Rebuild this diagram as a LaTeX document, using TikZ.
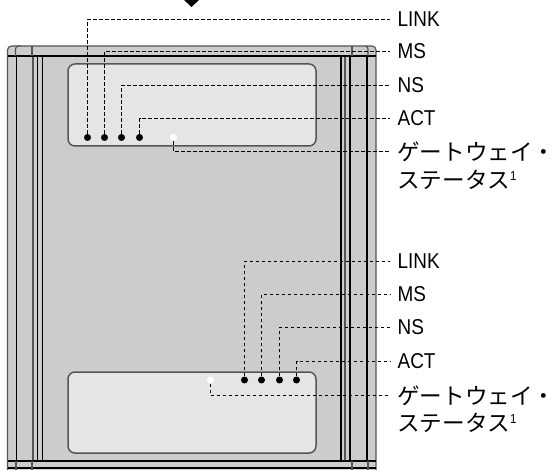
\documentclass[tikz,border=0pt]{standalone}
\usepackage{fontspec}
\usepackage{graphicx}
\usepackage{xcolor}
\setmainfont{Liberation Sans}
\newfontfamily\cjk{Noto Sans CJK JP}
\definecolor{body}{HTML}{CCCCCC}
\definecolor{panel}{HTML}{E5E5E5}
\definecolor{edge}{HTML}{555555}
\definecolor{ink}{HTML}{000000}
\newcommand{\narrowlab}[1]{\scalebox{.88}[1]{#1}}
\newcommand{\noteone}{\raisebox{8pt}{\fontsize{13}{13}\selectfont\rmfamily\narrowlab{1}}}
\tikzset{
  base/.style={draw=ink, line width=1.2pt},
  soft/.style={draw=edge, line width=1.2pt},
  panelbox/.style={draw=edge, fill=panel, line width=1.5pt, rounded corners=7pt},
  lead/.style={draw=ink, line width=1.2pt, dash pattern=on 3.6pt off 2.4pt},
  dot/.style={circle, fill=ink, inner sep=0pt, minimum size=7pt},
  wdot/.style={circle, fill=white, inner sep=0pt, minimum size=7pt},
  lab/.style={anchor=west, inner xsep=0pt, inner ysep=0pt, text=ink, font=\fontsize{21.5}{23}\selectfont},
  jlab/.style={anchor=west, inner xsep=0pt, inner ysep=0pt, text=ink, font=\fontsize{22.6}{25}\cjk},
}
\begin{document}
\begin{tikzpicture}[x=1pt,y=-1pt]
  \useasboundingbox (0,0) rectangle (557,470);
  % housing
  \fill[body, rounded corners=4pt] (7.5,476) -- (7.5,46) -- (376,46) -- (376,476) -- cycle;
  \draw[soft, rounded corners=4pt] (7.5,476) -- (7.5,46) -- (376,46) -- (376,476);
  \draw[base] (16.5,56) -- (16.5,461);
  \draw[soft] (33,56) -- (33,461);
  \draw[base] (37.5,56) -- (37.5,461);
  \draw[base] (42.5,56) -- (42.5,461);
  \draw[base] (341,56) -- (341,461);
  \draw[soft] (345,56) -- (345,461);
  \draw[base] (350,56) -- (350,461);
  \draw[base] (367,56) -- (367,461);
  % top and bottom bands
  \draw[base] (7.5,56) -- (376,56);
  \draw[soft, rounded corners=3pt] (15.5,56) -- (15.5,46) -- (18,46);
  \draw[soft] (32,46) -- (32,56);
  \draw[soft] (352,46) -- (352,56);
  \draw[soft, rounded corners=3pt] (365,46) -- (368,46) -- (368,56);
  \draw[base] (7.5,461) -- (376,461);
  \draw[base] (7.5,468) -- (376,468);
  \draw[soft] (16,461) -- (16,470);
  \draw[soft] (32,461) -- (32,470);
  \draw[soft] (352,461) -- (352,470);
  \draw[soft] (368,461) -- (368,470);
  % panels
  \draw[panelbox] (68,64) rectangle (316,146);
  \draw[panelbox] (68,372) rectangle (316,453);
  % arrow
  \fill[ink] (183,-1) -- (191.5,7) -- (200,-1) -- cycle;
  % upper group
  \node[dot] (linka) at (87.5,137.5) {};
  \node[dot] (msa) at (104.5,137.5) {};
  \node[dot] (nsa) at (121.5,137.5) {};
  \node[dot] (acta) at (139.5,137.5) {};
  \node[wdot] (gwa) at (173.5,137.5) {};
  \node[lab] (linkla) at (390,19.5) {\hspace*{7.5pt}\narrowlab{LINK}};
  \node[lab] (msla) at (390,51.5) {\hspace*{7.5pt}\narrowlab{MS}};
  \node[lab] (nsla) at (390,85.5) {\hspace*{7.5pt}\narrowlab{NS}};
  \node[lab] (actla) at (390,118.5) {\hspace*{7.5pt}\narrowlab{ACT}};
  \node[jlab] (gwla) at (390,151.5) {\hspace*{7pt}ゲートウェイ・};
  \node[jlab] (gwlb) at (390,180) {\hspace*{7pt}ステータス\noteone};
  \draw[lead] (linka) |- (linkla);
  \draw[lead] (msa) |- (msla);
  \draw[lead] (nsa) |- (nsla);
  \draw[lead] (acta) |- (actla);
  \draw[lead] (gwa) |- (gwla);
  % lower group
  \node[dot] (linkb) at (244.5,380) {};
  \node[dot] (msb) at (261.5,380) {};
  \node[dot] (nsb) at (279.5,380) {};
  \node[dot] (actb) at (296.5,380) {};
  \node[wdot] (gwb) at (210.5,380) {};
  \node[lab] (linklb) at (390,261.5) {\hspace*{7.5pt}\narrowlab{LINK}};
  \node[lab] (mslb) at (390,294.5) {\hspace*{7.5pt}\narrowlab{MS}};
  \node[lab] (nslb) at (390,327.5) {\hspace*{7.5pt}\narrowlab{NS}};
  \node[lab] (actlb) at (390,361.5) {\hspace*{7.5pt}\narrowlab{ACT}};
  \node[jlab] (gwlc) at (390,395.5) {\hspace*{7pt}ゲートウェイ・};
  \node[jlab] (gwld) at (390,422.5) {\hspace*{7pt}ステータス\noteone};
  \draw[lead] (linkb) |- (linklb);
  \draw[lead] (msb) |- (mslb);
  \draw[lead] (nsb) |- (nslb);
  \draw[lead] (actb) |- (actlb);
  \draw[lead] (gwb) |- (gwlc);
\end{tikzpicture}
\end{document}
